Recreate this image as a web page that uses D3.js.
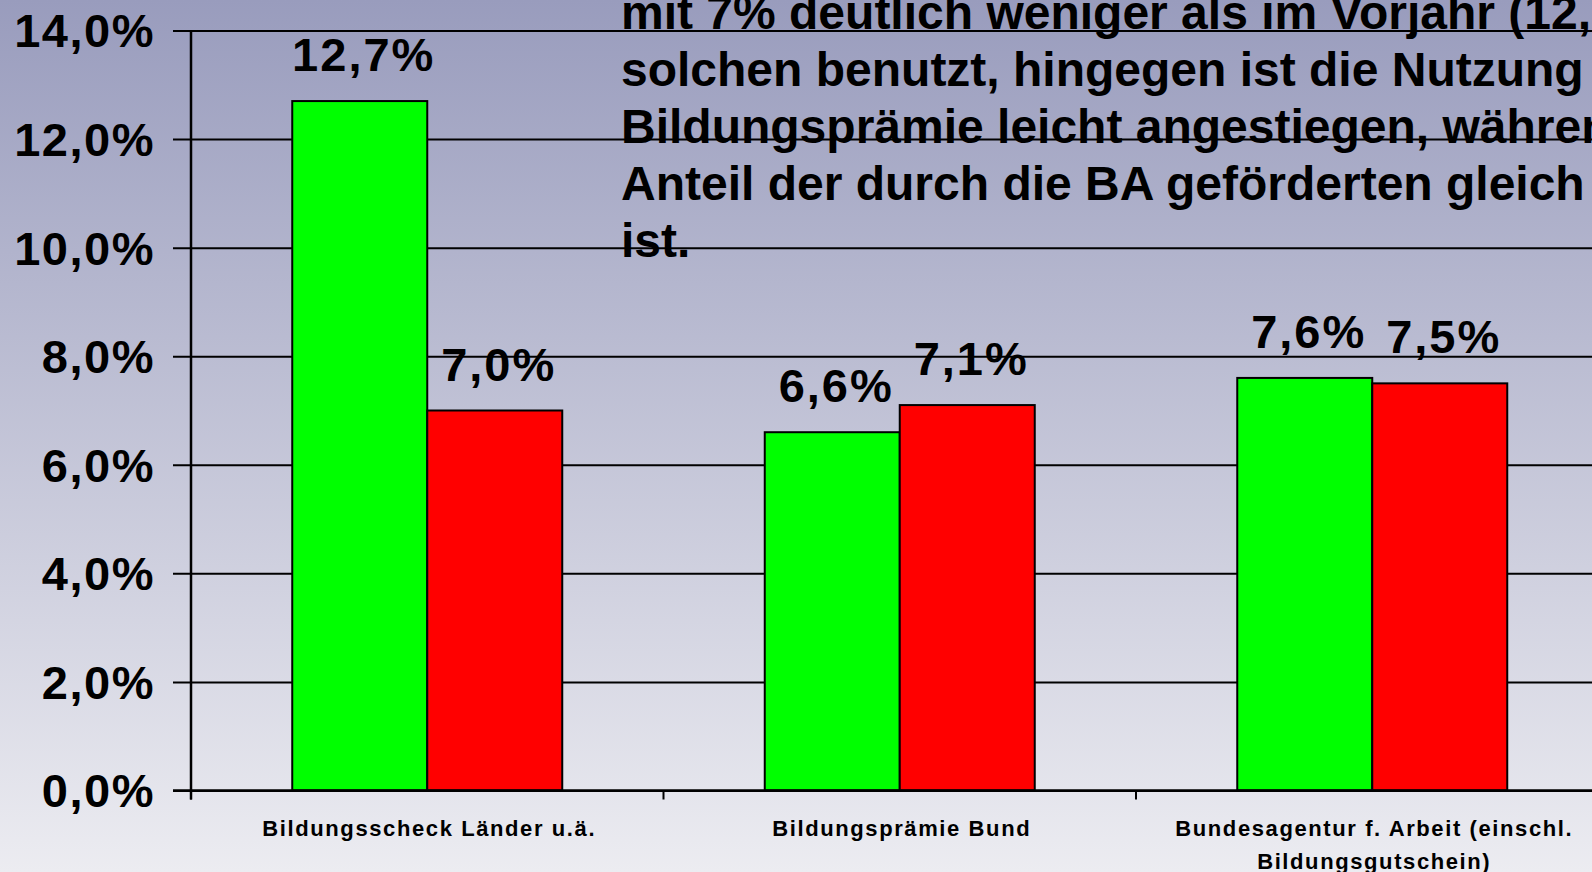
<!DOCTYPE html>
<html>
<head>
<meta charset="utf-8">
<script src="https://cdn.jsdelivr.net/npm/d3@7"></script>
<style>
  html, body { margin: 0; padding: 0; overflow: hidden; }
  svg { display: block; font-family: "Liberation Sans", Arial, sans-serif; }
</style>
</head>
<body>
<svg id="chart" width="1592" height="872"></svg>
<script>
// ---- data ----
const categories = [
  ["Bildungsscheck Länder u.ä."],
  ["Bildungsprämie Bund"],
  ["Bundesagentur f. Arbeit (einschl.", "Bildungsgutschein)"]
];
const seriesNames = ["Vorjahr", "Aktuell"];
const seriesColors = ["#00ff00", "#ff0000"];
const valuesVorjahr = [12.7, 6.6, 7.6];
const valuesAktuell = [7.0, 7.1, 7.5];
const yTicks = [0, 2, 4, 6, 8, 10, 12, 14];
const overlayLines = [
  "mit 7% deutlich weniger als im Vorjahr (12,7%) einen",
  "solchen benutzt, hingegen ist die Nutzung der",
  "Bildungsprämie leicht angestiegen, während der",
  "Anteil der durch die BA geförderten gleich geblieben",
  "ist."
];

const W = 1592, H = 872;
const svg = d3.select("#chart");

// background gradient
const defs = svg.append("defs");
const grad = defs.append("linearGradient").attr("id", "bg")
  .attr("x1", 0).attr("y1", 0).attr("x2", 0).attr("y2", 1);
grad.append("stop").attr("offset", "0%").attr("stop-color", "#999cbd");
grad.append("stop").attr("offset", "100%").attr("stop-color", "#ececf1");
svg.append("rect").attr("width", W).attr("height", H).attr("fill", "url(#bg)");

const catKeys = categories.map((c, i) => "c" + i);
const x0 = d3.scaleBand().domain(catKeys).range([191, 191 + 3 * 472.5]).paddingInner(0).paddingOuter(0);
const x1 = d3.scaleBand().domain(seriesNames).range([0, x0.bandwidth()]).paddingInner(0).paddingOuter(0.75);
const y = d3.scaleLinear().domain([0, 14]).range([790.5, 30.5]);

const fmt = v => d3.format(".1f")(v).replace(".", ",") + "%";

// gridlines + left ticks
const yAxis = d3.axisLeft(y).tickValues(yTicks).tickSize(-(W - 173)).tickFormat("");
svg.append("g").attr("transform", "translate(173,0)").call(yAxis)
  .call(g => g.select(".domain").remove())
  .call(g => g.selectAll("line").attr("stroke", "#000").attr("stroke-width", 2).attr("x2", W - 173));

// y tick labels
svg.append("g").selectAll("text").data(yTicks).join("text")
  .attr("x", 155).attr("y", d => y(d)).attr("dy", "0.36em")
  .attr("text-anchor", "end")
  .attr("font-size", 47).attr("font-weight", "bold").attr("letter-spacing", "1.5px")
  .attr("fill", "#000")
  .text(d => fmt(d));

// bars
const rows = catKeys.map((k, i) => ({ key: k, vals: [valuesVorjahr[i], valuesAktuell[i]] }));
const groups = svg.append("g").selectAll("g").data(rows).join("g")
  .attr("transform", d => `translate(${x0(d.key)},0)`);
groups.selectAll("rect").data(d => d.vals.map((v, j) => ({ s: seriesNames[j], v, j }))).join("rect")
  .attr("x", d => x1(d.s)).attr("width", x1.bandwidth())
  .attr("y", d => y(d.v)).attr("height", d => y(0) - y(d.v))
  .attr("fill", d => seriesColors[d.j]).attr("stroke", "#000").attr("stroke-width", 2);
groups.selectAll("text").data(d => d.vals.map((v, j) => ({ s: seriesNames[j], v, j }))).join("text")
  .attr("x", d => x1(d.s) + x1.bandwidth() / 2 + 4).attr("y", d => y(d.v) - 30)
  .attr("text-anchor", "middle")
  .attr("font-size", 47).attr("font-weight", "bold").attr("letter-spacing", "2px")
  .attr("fill", "#000")
  .text(d => fmt(d.v));

// x axis
svg.append("line").attr("x1", 173).attr("x2", W).attr("y1", y(0)).attr("y2", y(0))
  .attr("stroke", "#000").attr("stroke-width", 2.5);
const tickXs = catKeys.map(k => x0(k));
svg.append("g").selectAll("line").data(tickXs).join("line")
  .attr("x1", d => d).attr("x2", d => d).attr("y1", y(0)).attr("y2", y(0) + 9)
  .attr("stroke", "#000").attr("stroke-width", 2);
// y axis line
svg.append("line").attr("x1", 191).attr("x2", 191).attr("y1", y(14)).attr("y2", y(0) + 9)
  .attr("stroke", "#000").attr("stroke-width", 2.5);

// category labels
const catLabels = svg.append("g").selectAll("text").data(rows).join("text")
  .attr("text-anchor", "middle")
  .attr("font-size", 22).attr("font-weight", "bold").attr("letter-spacing", "1.6px")
  .attr("fill", "#000");
catLabels.each(function(d, i) {
  const t = d3.select(this);
  categories[i].forEach((line, li) => {
    t.append("tspan").attr("x", x0(d.key) + x0.bandwidth() / 2 + 2).attr("y", 836 + li * 33).text(line);
  });
});

// overlay text
svg.append("g").selectAll("text").data(overlayLines).join("text")
  .attr("x", 621).attr("y", (d, i) => 29 + i * 57)
  .attr("font-size", 48).attr("font-weight", "bold").attr("fill", "#000")
  .text(d => d);
</script>
</body>
</html>
